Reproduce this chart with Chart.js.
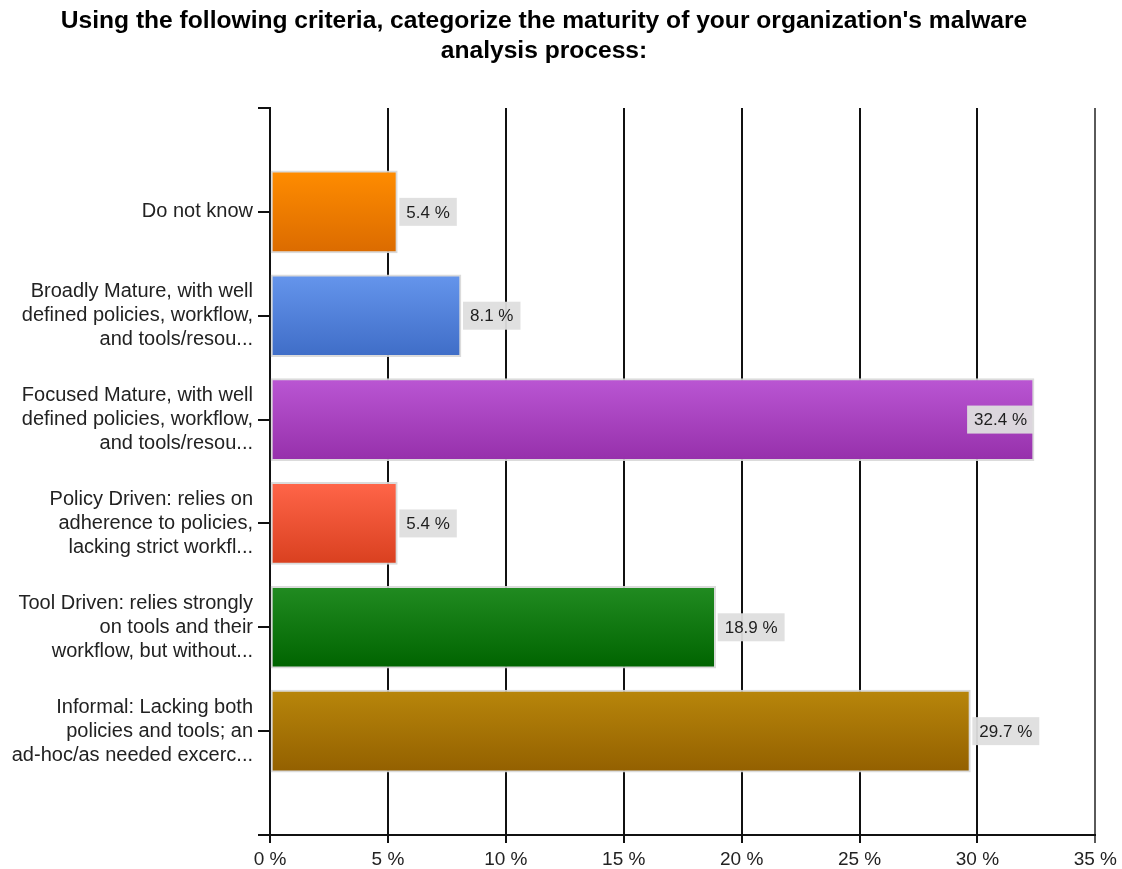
<!DOCTYPE html>
<html>
<head>
<meta charset="utf-8">
<script src="https://cdn.jsdelivr.net/npm/chart.js@4/dist/chart.umd.min.js"></script>
<style>
  html, body { margin: 0; padding: 0; background: #fff; }
  #wrap { width: 1122px; height: 869px; position: relative; }
</style>
</head>
<body>
<div id="wrap"><canvas id="maturityChart"></canvas></div>
<script>
// вопрос опроса
const titleLines = [
  "Using the following criteria, categorize the maturity of your organization's malware",
  'analysis process:'
];

// категории (как подписаны на оси)
const categories = [
  ['Do not know'],
  ['Broadly Mature, with well', 'defined policies, workflow,', 'and tools/resou...'],
  ['Focused Mature, with well', 'defined policies, workflow,', 'and tools/resou...'],
  ['Policy Driven: relies on', 'adherence to policies,', 'lacking strict workfl...'],
  ['Tool Driven: relies strongly', 'on tools and their', 'workflow, but without...'],
  ['Informal: Lacking both', 'policies and tools; an', 'ad-hoc/as needed excerc...']
];

// доля ответов, %
const percents = [5.4, 8.1, 32.4, 5.4, 18.9, 29.7];

// цвета столбиков: верх / низ градиента
const topColors = ['#ff8c00', '#6595ec', '#ba56d3', '#ff6549', '#218b21', '#b8860b'];
const bottomColors = ['#db6b00', '#3f6dc7', '#9630ab', '#d9401f', '#006400', '#936000'];

// деления оси X
const xTicks = [0, 5, 10, 15, 20, 25, 30, 35];

// пустые места сверху и снизу, чтобы были отступы как в отчете
const yLabels = [''].concat(categories, ['']);
const yValues = [null].concat(percents, [null]);

const BAR_H = 82;
const FONT = "'Liberation Sans', Arial, sans-serif";

function barGradient(context) {
  const chart = context.chart;
  const i = context.dataIndex - 1;
  if (i < 0 || i >= percents.length) return '#ccc';
  const yScale = chart.scales.y;
  if (!yScale) return topColors[i];
  const cy = yScale.getPixelForValue(context.dataIndex);
  const g = chart.ctx.createLinearGradient(0, cy - BAR_H / 2, 0, cy + BAR_H / 2);
  g.addColorStop(0, topColors[i]);
  g.addColorStop(1, bottomColors[i]);
  return g;
}

// заголовок рисуем сами, он чуть левее центра
const titlePlugin = {
  id: 'titleText',
  afterDraw(chart) {
    const ctx = chart.ctx;
    ctx.save();
    ctx.font = 'bold 24.6px ' + FONT;
    ctx.fillStyle = '#000';
    ctx.textAlign = 'center';
    ctx.textBaseline = 'middle';
    titleLines.forEach((line, k) => {
      ctx.fillText(line, 544, 21 + k * 30);
    });
    ctx.restore();
  }
};

// подписи значений в серых плашках
const valueLabels = {
  id: 'valueLabels',
  afterDatasetsDraw(chart) {
    const ctx = chart.ctx;
    const meta = chart.getDatasetMeta(0);
    const area = chart.chartArea;
    ctx.save();
    ctx.font = '17px ' + FONT;
    ctx.textBaseline = 'middle';
    meta.data.forEach((bar, idx) => {
      const v = yValues[idx];
      if (v == null) return;
      const text = v.toFixed(1) + ' %';
      const w = ctx.measureText(text).width + 14;
      const h = 28;
      let left = bar.x + 2;
      if (left + w > area.right) left = bar.x - w;
      ctx.fillStyle = 'rgba(222,222,222,0.95)';
      ctx.fillRect(left, bar.y - h / 2, w, h);
      ctx.fillStyle = '#1e1e1e';
      ctx.textAlign = 'left';
      ctx.fillText(text, left + 7, bar.y + 1);
    });
    ctx.restore();
  }
};

const ctx = document.getElementById('maturityChart').getContext('2d');
const chart = new Chart(ctx, {
  type: 'bar',
  data: {
    labels: yLabels,
    datasets: [{
      data: yValues,
      backgroundColor: barGradient,
      borderColor: 'rgba(215,215,215,0.9)',
      borderWidth: 2,
      borderSkipped: false,
      barThickness: BAR_H
    }]
  },
  options: {
    indexAxis: 'y',
    responsive: true,
    maintainAspectRatio: false,
    animation: false,
    layout: { padding: { top: 108, right: 25, left: 0, bottom: 0 } },
    plugins: {
      legend: { display: false },
      title: { display: false },
      tooltip: { enabled: false }
    },
    scales: {
      x: {
        type: 'linear',
        min: 0,
        max: 35,
        afterBuildTicks: (scale) => { scale.ticks = xTicks.map(v => ({ value: v })); },
        afterFit: (scale) => { scale.height = 34; },
        ticks: {
          callback: (v) => v + ' %',
          color: '#222',
          padding: 5,
          maxRotation: 0,
          font: { family: FONT, size: 19 }
        },
        grid: {
          color: (c) => (c.tick && c.tick.value === 35 ? '#5a5a5a' : '#111'),
          lineWidth: 2,
          tickLength: 8
        },
        border: { color: '#111', width: 2 }
      },
      y: {
        type: 'category',
        offset: false,
        afterFit: (scale) => { scale.width = 270; },
        ticks: {
          color: '#222',
          padding: 5,
          autoSkip: false,
          font: { family: FONT, size: 20, lineHeight: 1.2 }
        },
        grid: {
          offset: false,
          drawOnChartArea: false,
          color: '#111',
          lineWidth: 2,
          tickLength: 12
        },
        border: { color: '#111', width: 2 }
      }
    }
  },
  plugins: [valueLabels, titlePlugin]
});
</script>
</body>
</html>
